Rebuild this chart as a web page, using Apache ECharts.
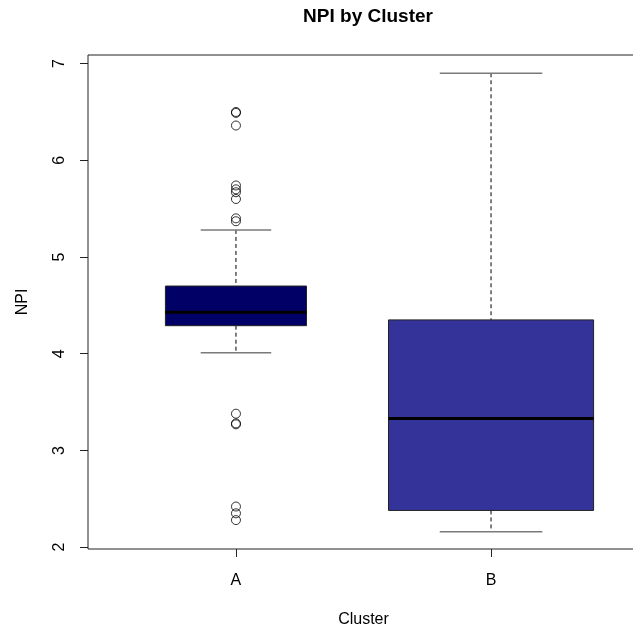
<!DOCTYPE html>
<html>
<head>
<meta charset="utf-8">
<script src="https://cdn.jsdelivr.net/npm/echarts@6/dist/echarts.min.js"></script>
<style>
  html, body { margin: 0; padding: 0; background: #fff; }
  #main { width: 633px; height: 632px; }
</style>
</head>
<body>
<div id="main"></div>
<script>
// 分组与箱线统计
const categories = ["A", "B"];
const whiskerLow = [4.01, 2.16];
const q1 = [4.29, 2.38];
const medians = [4.43, 3.33];
const q3 = [4.70, 4.35];
const whiskerHigh = [5.28, 6.90];
// A 组的离群点
const outliersA = [6.50, 6.49, 6.36, 5.74, 5.70, 5.67, 5.60, 5.40, 5.37, 3.38, 3.28, 3.27, 2.42, 2.35, 2.28];
const yTicks = [2, 3, 4, 5, 6, 7];

const chart = echarts.init(document.getElementById("main"));

// 箱体宽度（x 轴单位）
const boxWex = [0.553, 0.804];
const fills = ["#000066", "#333399"];
const font = "Liberation Sans, Arial, sans-serif";

const boxData = categories.map((c, i) => [i + 1, whiskerLow[i], q1[i], medians[i], q3[i], whiskerHigh[i]]);
const outlierData = outliersA.map((v) => [1, v]);

function renderBox(params, api) {
  const i = params.dataIndex;
  const x = api.value(0);
  const half = boxWex[i] / 2;
  const pLow = api.coord([x, api.value(1)]);
  const pQ1 = api.coord([x, api.value(2)]);
  const pMed = api.coord([x, api.value(3)]);
  const pQ3 = api.coord([x, api.value(4)]);
  const pHigh = api.coord([x, api.value(5)]);
  const left = api.coord([x - half, 0])[0];
  const right = api.coord([x + half, 0])[0];
  const capL = api.coord([x - half / 2, 0])[0];
  const capR = api.coord([x + half / 2, 0])[0];
  const dash = { stroke: "#000", lineWidth: 1, lineDash: [4, 3] };
  const cap = { stroke: "#7a7a7a", lineWidth: 1.5 };
  return {
    type: "group",
    children: [
      { type: "line", shape: { x1: pHigh[0], y1: pHigh[1], x2: pQ3[0], y2: pQ3[1] }, style: dash },
      { type: "line", shape: { x1: pQ1[0], y1: pQ1[1], x2: pLow[0], y2: pLow[1] }, style: dash },
      { type: "line", shape: { x1: capL, y1: pHigh[1], x2: capR, y2: pHigh[1] }, style: cap },
      { type: "line", shape: { x1: capL, y1: pLow[1], x2: capR, y2: pLow[1] }, style: cap },
      {
        type: "rect",
        shape: { x: left, y: pQ3[1], width: right - left, height: pQ1[1] - pQ3[1] },
        style: { fill: fills[i], stroke: "#222", lineWidth: 1 },
      },
      { type: "line", shape: { x1: left, y1: pMed[1], x2: right, y2: pMed[1] }, style: { stroke: "#000", lineWidth: 3 } },
    ],
  };
}

const option = {
  animation: false,
  title: {
    text: "NPI by Cluster",
    left: 363,
    top: 2,
    textAlign: "center",
    textStyle: { fontFamily: font, fontSize: 19, fontWeight: "bold", color: "#000" },
  },
  grid: {
    left: 88,
    top: 55,
    width: 551,
    height: 494,
    outerBoundsMode: "none",
    containLabel: false,
    show: true,
    borderColor: "#222",
    borderWidth: 1,
    backgroundColor: "transparent",
  },
  xAxis: {
    type: "value",
    min: 0.42,
    max: 2.58,
    name: "Cluster",
    nameLocation: "middle",
    nameGap: 63,
    nameTextStyle: { fontFamily: font, fontSize: 16, color: "#000" },
    axisLine: { show: false },
    splitLine: { show: false },
    axisTick: { show: true, length: 8, customValues: [1, 2], lineStyle: { color: "#222" } },
    axisLabel: {
      customValues: [1, 2],
      margin: 24,
      fontFamily: font,
      fontSize: 16,
      color: "#000",
      formatter: (v) => categories[Math.round(v) - 1],
    },
  },
  yAxis: {
    type: "value",
    min: 1.981,
    max: 7.089,
    name: "NPI",
    nameLocation: "middle",
    nameRotate: 90,
    nameGap: 57,
    nameTextStyle: { fontFamily: font, fontSize: 16, color: "#000" },
    axisLine: { show: false },
    splitLine: { show: false },
    axisTick: { show: true, length: 8, customValues: yTicks, lineStyle: { color: "#222" } },
    axisLabel: {
      customValues: yTicks,
      rotate: 90,
      margin: 20,
      fontFamily: font,
      fontSize: 16,
      color: "#000",
    },
  },
  series: [
    {
      type: "custom",
      renderItem: renderBox,
      data: boxData,
      encode: { x: 0, y: [1, 2, 3, 4, 5] },
      z: 2,
    },
    {
      type: "scatter",
      data: outlierData,
      symbol: "circle",
      symbolSize: 9,
      itemStyle: { color: "rgba(0,0,0,0)", borderColor: "#000", borderWidth: 1 },
      z: 3,
    },
  ],
};
chart.setOption(option);
</script>
</body>
</html>
